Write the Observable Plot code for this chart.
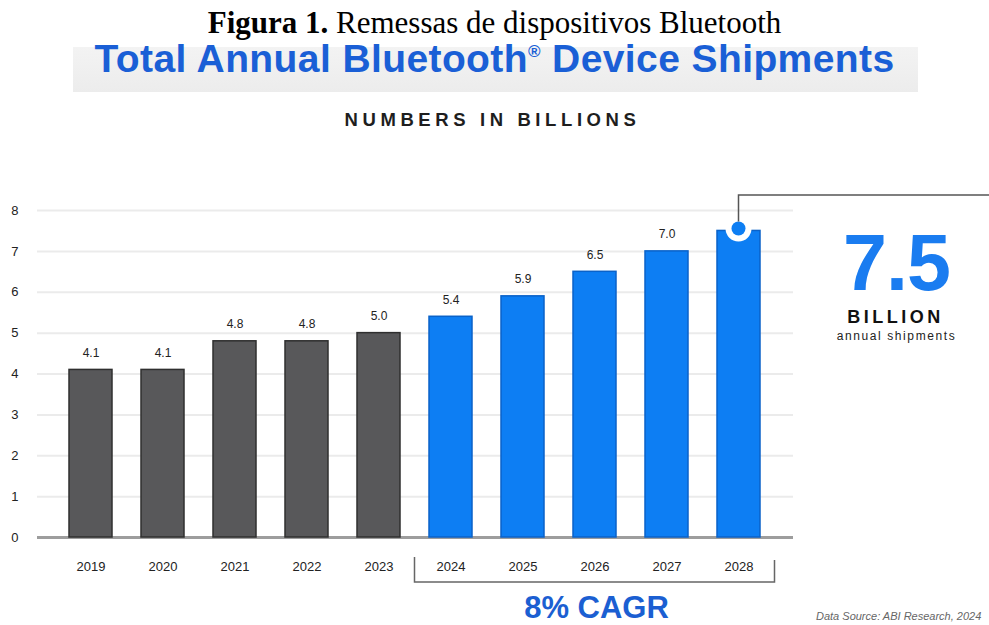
<!DOCTYPE html>
<html><head><meta charset="utf-8">
<script src="https://cdn.jsdelivr.net/npm/d3@7"></script>
<script src="https://cdn.jsdelivr.net/npm/@observablehq/plot@0.6"></script>
<style>
body{margin:0;background:#fff;}
#wrap{position:relative;width:989px;height:625px;overflow:hidden;font-family:"Liberation Sans",Arial,sans-serif;}
#fig{position:absolute;left:0;top:5px;width:989px;text-align:center;font-family:"Liberation Serif","Times New Roman",serif;font-size:31px;color:#000;line-height:36px;white-space:nowrap}
#band{position:absolute;left:73px;top:47px;width:845px;height:45px;background:linear-gradient(#f3f3f3,#ececec)}
#title{position:absolute;left:0;top:39px;width:989px;text-align:center;font-weight:bold;font-size:39px;letter-spacing:0.4px;color:#1a5fd6;line-height:40px;white-space:nowrap}
#sub{position:absolute;left:0;top:110px;width:985px;text-align:center;font-weight:bold;font-size:18.5px;letter-spacing:4.6px;color:#1e1e1e;line-height:20px;white-space:nowrap}
#chart{position:absolute;left:0;top:140px}
#src{position:absolute;left:816px;top:610px;font-style:italic;font-size:11px;color:#666;white-space:nowrap}
</style></head>
<body>
<div id="wrap">
  <div id="fig"><b>Figura 1.</b> Remessas de dispositivos Bluetooth</div>
  <div id="band"></div>
  <div id="title">Total Annual Bluetooth<sup style="font-size:17px;vertical-align:15px;line-height:0">®</sup> Device Shipments</div>
  <div id="sub">NUMBERS IN BILLIONS</div>
  <div id="chart"></div>
  <div id="src">Data Source: ABI Research, 2024</div>
</div>
<script>
// ---- data ----
const years = ["2019","2020","2021","2022","2023","2024","2025","2026","2027","2028"];
const values = [4.1, 4.1, 4.8, 4.8, 5.0, 5.4, 5.9, 6.5, 7.0, 7.5];
const phase = ["Actual","Actual","Actual","Actual","Actual","Forecast","Forecast","Forecast","Forecast","Forecast"];
const yTicks = [0, 1, 2, 3, 4, 5, 6, 7, 8];
const highlightYear = "2028";
const cagrLabel = "8% CAGR";
const calloutUnit = "BILLION";
const calloutNote = "annual shipments";

const data = years.map((year, i) => ({year, value: values[i], phase: phase[i]}));
const forecastYears = data.filter(d => d.phase === "Forecast").map(d => d.year);

const GRAY = "#58585a", GRAY_STROKE = "#2f2f2f";
const BLUE = "#0d7ef3", BLUE_STROKE = "#0a62c9";

function annotate(index, scales, vals, dims) {
  const x = scales.x, y = scales.y;
  const bw = typeof x.bandwidth === "function" ? x.bandwidth() : 0;
  const cx = yr => x(yr) + bw / 2;
  const step = x(years[1]) - x(years[0]);
  const y0 = y(0);
  const g = d3.create("svg:g");
  // bracket under forecast years
  const xl = cx(forecastYears[0]) - step / 2;
  const xr = cx(forecastYears[forecastYears.length - 1]) + step / 2;
  g.append("path")
    .attr("d", `M${xl},${y0 + 20}V${y0 + 45}H${xr}V${y0 + 23}`)
    .attr("fill", "none").attr("stroke", "#666").attr("stroke-width", 1.5);
  g.append("text")
    .attr("x", (xl + xr) / 2 + 2).attr("y", y0 + 81)
    .attr("text-anchor", "middle").attr("font-weight", "bold")
    .attr("font-size", 31).attr("fill", "#1b5fd2").text(cagrLabel);
  // callout on highlighted bar
  const hv = values[years.indexOf(highlightYear)];
  const hx = cx(highlightYear), hy = y(hv) - 2;
  g.append("circle").attr("cx", hx).attr("cy", hy).attr("r", 13).attr("fill", "#fff");
  g.append("circle").attr("cx", hx).attr("cy", hy).attr("r", 7).attr("fill", BLUE);
  g.append("path")
    .attr("d", `M${hx},${hy - 7}V${y(8) - 15}H${dims.width}`)
    .attr("fill", "none").attr("stroke", "#555").attr("stroke-width", 1.5);
  g.append("text")
    .attr("x", hx + 158).attr("y", hy + 62)
    .attr("text-anchor", "middle").attr("font-weight", "bold")
    .attr("font-size", 79).attr("letter-spacing", -1).attr("fill", "#1a7cf0")
    .text(hv.toFixed(1));
  g.append("text")
    .attr("x", hx + 157).attr("y", hy + 95)
    .attr("text-anchor", "middle").attr("font-weight", "bold")
    .attr("font-size", 18).attr("letter-spacing", 3.5).attr("fill", "#111")
    .text(calloutUnit);
  g.append("text")
    .attr("x", hx + 158).attr("y", hy + 112)
    .attr("text-anchor", "middle")
    .attr("font-size", 12).attr("letter-spacing", 1.6).attr("fill", "#222")
    .text(calloutNote);
  return g.node();
}

const chart = Plot.plot({
  width: 989, height: 485,
  marginTop: 70, marginBottom: 88, marginLeft: 37, marginRight: 196,
  style: {fontFamily: "Liberation Sans, Arial, sans-serif", fontSize: "13px", color: "#222", background: "transparent", overflow: "visible"},
  x: {domain: years, padding: 0.4, label: null, tickSize: 0, tickPadding: 24},
  y: {domain: [0, 8], ticks: yTicks, label: null, tickSize: 0, tickPadding: 19},
  marks: [
    Plot.ruleY(yTicks.filter(t => t > 0), {stroke: "#ebebeb", strokeWidth: 2}),
    Plot.ruleY([0], {stroke: "#9d9d9d", strokeWidth: 3}),
    Plot.barY(data.filter(d => d.phase === "Actual"), {x: "year", y: "value", fill: GRAY, stroke: GRAY_STROKE, strokeWidth: 1.5}),
    Plot.barY(data.filter(d => d.phase === "Forecast"), {x: "year", y: "value", fill: BLUE, stroke: BLUE_STROKE, strokeWidth: 1.5}),
    Plot.text(data.filter(d => d.year !== highlightYear), {x: "year", y: "value", text: d => d.value.toFixed(1), dy: -17, fontSize: 12, fill: "#222"}),
    annotate
  ]
});
document.getElementById("chart").appendChild(chart);
</script>
</body></html>
